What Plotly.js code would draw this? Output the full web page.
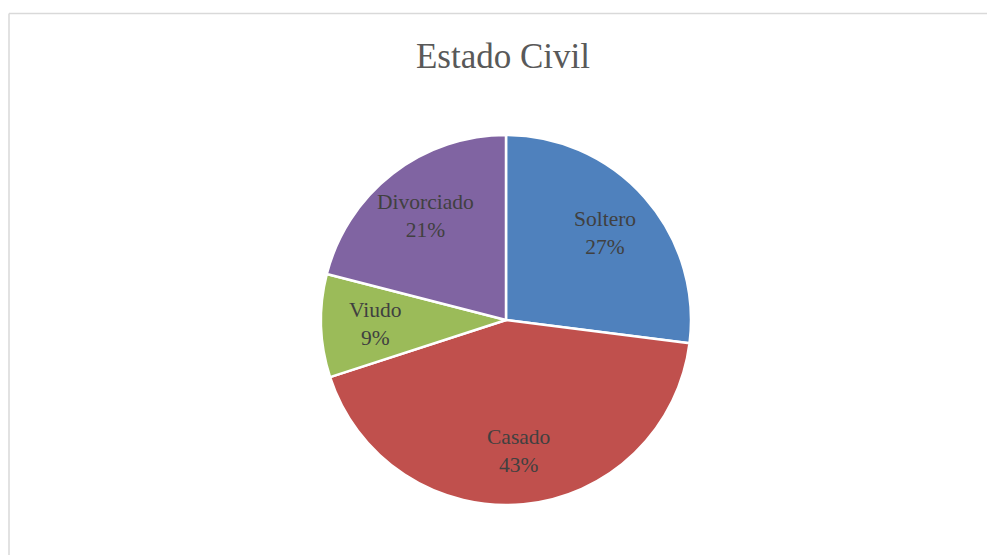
<!DOCTYPE html>
<html>
<head>
<meta charset="utf-8">
<script src="https://cdn.plot.ly/plotly-3.0.1.min.js"></script>
<style>
  html, body { margin: 0; padding: 0; background: #ffffff; }
  #chart { width: 987px; height: 555px; }
</style>
</head>
<body>
<div id="chart"></div>
<script>
const chartTitle = "Estado Civil";
const categories = ["Soltero", "Casado", "Viudo", "Divorciado"];
const values = [27, 43, 9, 21];
const colors = ["#4F81BD", "#C0504D", "#9BBB59", "#8064A2"];

const W = 987, H = 555;
const FONT = "Liberation Serif, Times New Roman, serif";
// pie geometry (pixels)
const cx = 506, cy = 320, R = 185;

const trace = {
  type: "pie",
  labels: categories,
  values: values,
  sort: false,
  direction: "clockwise",
  rotation: 0,
  marker: { colors: colors, line: { color: "#ffffff", width: 2.5 } },
  textinfo: "none",
  hoverinfo: "label+percent",
  showlegend: false,
  domain: { x: [(cx - R) / W, (cx + R) / W], y: [(H - cy - R) / H, (H - cy + R) / H] }
};

// data labels placed at the mid-angle of each slice, derived from the values
const total = values.reduce((a, b) => a + b, 0);
const annotations = [];
let cum = 0;
values.forEach((v, i) => {
  const mid = (cum + v / 2) / total * 2 * Math.PI;
  cum += v;
  const r = 0.71 * R;
  const px = cx + r * Math.sin(mid);
  const py = cy - r * Math.cos(mid);
  annotations.push({
    xref: "paper", yref: "paper",
    x: px / W, y: 1 - py / H,
    xanchor: "center", yanchor: "middle",
    showarrow: false,
    text: categories[i] + "<br>" + Math.round(v / total * 100) + "%",
    font: { family: FONT, size: 21.5, color: "#404040" }
  });
});

const layout = {
  width: W,
  height: H,
  margin: { l: 0, r: 0, t: 0, b: 0 },
  paper_bgcolor: "#ffffff",
  showlegend: false,
  title: {
    text: chartTitle,
    font: { family: FONT, size: 35, color: "#595959" },
    x: 503 / W,
    xanchor: "center",
    y: 1 - 56 / H,
    yanchor: "middle"
  },
  annotations: annotations,
  shapes: [
    { type: "line", xref: "paper", yref: "paper", x0: 9 / W, x1: 1.01, y0: 1 - 13.5 / H, y1: 1 - 13.5 / H,
      line: { color: "#D9D9D9", width: 1.5 } },
    { type: "line", xref: "paper", yref: "paper", x0: 9 / W, x1: 9 / W, y0: 1 - 13.5 / H, y1: -0.01,
      line: { color: "#D9D9D9", width: 1.5 } }
  ]
};

Plotly.newPlot("chart", [trace], layout, { displayModeBar: false, staticPlot: true });
</script>
</body>
</html>
